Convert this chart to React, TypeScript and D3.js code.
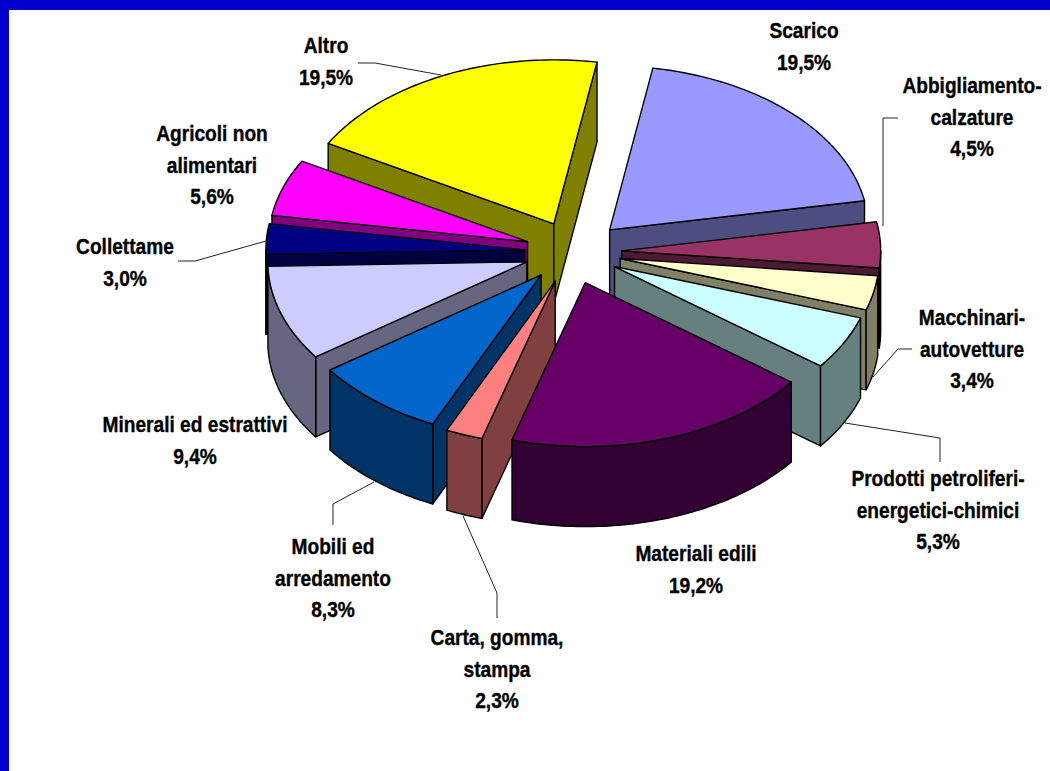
import React from 'react';
import * as d3 from 'd3';

const categories = ['Scarico', 'Abbigliamento-calzature', 'Macchinari-autovetture', 'Prodotti petroliferi-energetici-chimici', 'Materiali edili', 'Carta, gomma, stampa', 'Mobili ed arredamento', 'Minerali ed estrattivi', 'Collettame', 'Agricoli non alimentari', 'Altro'];
const values = [19.5, 4.5, 3.4, 5.3, 19.2, 2.3, 8.3, 9.4, 3.0, 5.6, 19.5];
const topColors = ['#9999FF', '#993366', '#FFFFCC', '#CCFFFF', '#660066', '#FF8080', '#0066CC', '#CCCCFF', '#000080', '#FF00FF', '#FFFF00'];
const sideColors = ['#4D4D80', '#4D1933', '#808066', '#668080', '#330033', '#804040', '#003366', '#666680', '#000040', '#800080', '#808000'];

// back to front
const drawOrder = [10, 0, 9, 1, 8, 2, 7, 3, 6, 5, 4];

// small per-slice shifts on top of the common explosion
const nudges: [number, number][] = [
  [0, 0], [-2.5, 0], [-3, 0], [-4, 0], [-5, 1], [-2.5, 0], [-2.5, -1], [-1.5, 0], [-1, 0], [-1, 0], [0, 0],
];

const labels = [
  { lines: ['Scarico'], x: 804, y: 38 },
  { lines: ['Abbigliamento-', 'calzature'], x: 972, y: 93 },
  { lines: ['Macchinari-', 'autovetture'], x: 972, y: 325 },
  { lines: ['Prodotti petroliferi-', 'energetici-chimici'], x: 938, y: 486 },
  { lines: ['Materiali edili'], x: 696, y: 561 },
  { lines: ['Carta, gomma,', 'stampa'], x: 497, y: 645 },
  { lines: ['Mobili ed', 'arredamento'], x: 333, y: 554 },
  { lines: ['Minerali ed estrattivi'], x: 195, y: 432 },
  { lines: ['Collettame'], x: 125, y: 254 },
  { lines: ['Agricoli non', 'alimentari'], x: 212, y: 141 },
  { lines: ['Altro'], x: 326, y: 53 },
];

const leaders: [number, number][][] = [
  [[898, 118], [883, 118], [883, 226]],
  [[912, 349], [898, 349], [873, 377]],
  [[845, 423], [940, 438], [940, 462]],
  [[463, 516], [497, 593], [497, 618]],
  [[374, 482], [333, 504], [333, 525]],
  [[178, 261], [195, 261], [266, 241]],
  [[358, 63], [375, 63], [441, 75]],
];

const WIDTH = 1050;
const HEIGHT = 771;
const CX = 575;
const CY = 252;
const RX = 259;
const RY = 164;
const DEPTH = 80;
const EXPLODE = 0.19;
const START = (9.6 * Math.PI) / 180;
const FONT_SCALE = 0.89;

const unit = (a: number): [number, number] => [Math.sin(a) * RX, -Math.cos(a) * RY];

const pie = d3.pie<number>().sort(null).startAngle(START).endAngle(START + 2 * Math.PI);
const slices = pie(values);
const line = d3.line();

function arcPoints(x: number, y: number, a0: number, a1: number): [number, number][] {
  const n = Math.max(2, Math.ceil((a1 - a0) / 0.02));
  return d3.range(n + 1).map((i) => {
    const a = a0 + ((a1 - a0) * i) / n;
    const [dx, dy] = unit(a);
    return [x + dx, y + dy] as [number, number];
  });
}

const Slice = ({ index }: { index: number }) => {
  const s = slices[index];
  const mid = (s.startAngle + s.endAngle) / 2;
  const [ox, oy] = unit(mid);
  const x = CX + ox * EXPLODE + nudges[index][0];
  const y = CY + oy * EXPLODE + nudges[index][1];
  const side = sideColors[index];

  const wall = (a: number) => {
    const [dx, dy] = unit(a);
    return line([[x, y], [x + dx, y + dy], [x + dx, y + dy + DEPTH], [x, y + DEPTH]]) + 'Z';
  };

  // radial walls that face the viewer
  const startVisible = Math.sin(s.startAngle) < 0;
  const endVisible = Math.sin(s.endAngle) > 0;

  // the part of the rim that faces the viewer
  const rimStart = Math.max(s.startAngle, Math.PI / 2);
  const rimEnd = Math.min(s.endAngle, (3 * Math.PI) / 2);
  let rim: string | null = null;
  if (rimEnd > rimStart) {
    const upper = arcPoints(x, y, rimStart, rimEnd);
    const lower = upper.map(([px, py]) => [px, py + DEPTH] as [number, number]).reverse();
    rim = line([...upper, ...lower]) + 'Z';
  }

  const top = line([[x, y], ...arcPoints(x, y, s.startAngle, s.endAngle)]) + 'Z';

  return (
    <g stroke="#000" strokeWidth={1.4} strokeLinejoin="round">
      {startVisible && <path d={wall(s.startAngle)} fill={side} />}
      {endVisible && <path d={wall(s.endAngle)} fill={side} />}
      {rim && <path d={rim} fill={side} />}
      <path d={top} fill={topColors[index]} />
    </g>
  );
};

const pct = (v: number) => v.toFixed(1).replace('.', ',') + '%';

export default function App() {
  return (
    <svg
      width={WIDTH}
      height={HEIGHT}
      style={{ position: 'absolute', left: 0, top: 0, background: '#fff' }}
    >
      <rect x={0} y={0} width={WIDTH} height={10} fill="#0000CC" />
      <rect x={0} y={0} width={9} height={HEIGHT} fill="#0000CC" />

      {leaders.map((pts, i) => (
        <path key={i} d={line(pts) as string} fill="none" stroke="#222" strokeWidth={1} />
      ))}

      {drawOrder.map((i) => (
        <Slice key={categories[i]} index={i} />
      ))}

      {labels.map((l, i) => (
        <g key={categories[i]} transform={`translate(${l.x},${l.y}) scale(${FONT_SCALE},1)`}>
          {[...l.lines, pct(values[i])].map((t, j) => (
            <text
              key={j}
              y={j * 31.6}
              textAnchor="middle"
              fontFamily="'Liberation Sans', Arial, sans-serif"
              fontWeight="bold"
              fontSize={21.5}
              fill="#000"
              stroke="#000"
              strokeWidth={0.35}
            >
              {t}
            </text>
          ))}
        </g>
      ))}
    </svg>
  );
}
